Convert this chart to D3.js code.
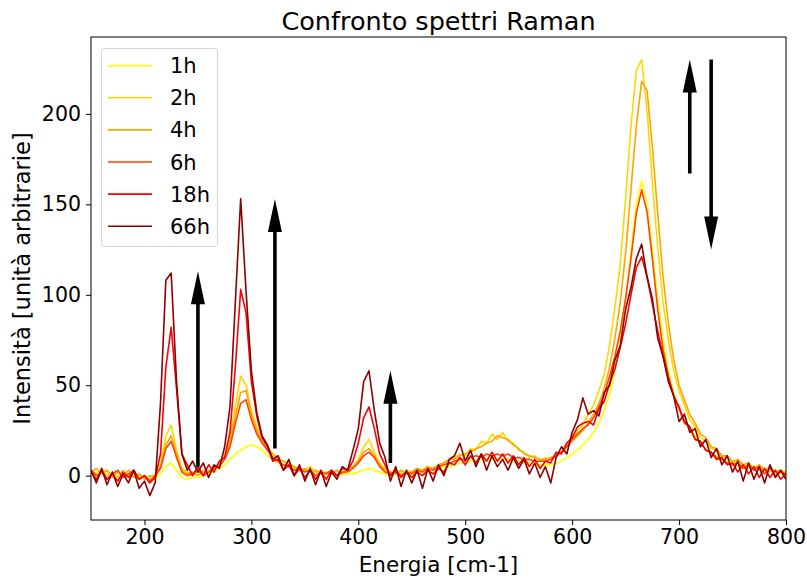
<!DOCTYPE html>
<html><head><meta charset="utf-8">
<script src="https://cdn.jsdelivr.net/npm/d3@7"></script>
<style>
body{margin:0;background:#fff}
svg{display:block}
text{font-family:"DejaVu Sans", sans-serif; fill:#000}
</style>
</head><body>
<svg id="c" width="807" height="578"></svg>
<script>
// Raman shift grid (cm-1), sampled every 5 cm-1
const energies = d3.range(150, 805, 5);
const seriesLabels = ["1h", "2h", "4h", "6h", "18h", "66h"];
const seriesColors = ["#ffff00", "#ffd700", "#ffa500", "#ff4500", "#ff0000", "#8b0000"];

const s1h = [
  2, 0, 1, 3, 0, 2, 1, -1, 1, 0,
  -1, -2, -1, 1, 5, 7, 3, -1, -2, -1,
  -1, 0, 1, 2, 4, 6, 9, 12, 14, 16,
  17, 16, 14, 11, 9, 7, 6, 5, 4, 3,
  3, 2, 2, 1, 1, 1, 0, 1, 1, 1,
  2, 3, 4, 3, 2, 1, 0, 1, 0, 1,
  1, 2, 2, 3, 3, 4, 5, 5, 6, 7,
  7, 8, 8, 9, 9, 9, 9, 9, 9, 8,
  8, 7, 7, 6, 6, 6, 6, 7, 8, 10,
  12, 14, 17, 20, 24, 29, 36, 45, 58, 74,
  97, 124, 150, 163, 150, 125, 98, 76, 58, 46,
  37, 31, 25, 22, 17, 15, 12, 11, 9, 8,
  7, 5, 6, 4, 5, 3, 4, 2, 3, 1,
  1];
const s2h = [
  3, 1, 4, 0, 2, -1, 3, 0, 2, -1,
  0, -2, 1, 6, 22, 28, 14, 4, 2, 0,
  2, 1, 3, 4, 7, 11, 20, 38, 55, 50,
  36, 27, 20, 16, 12, 10, 8, 7, 5, 4,
  3, 5, 2, 3, 1, 3, 0, 2, 3, 5,
  9, 16, 20, 13, 7, 4, 2, 3, 1, 3,
  2, 4, 3, 5, 4, 6, 7, 9, 10, 12,
  11, 15, 14, 19, 18, 23, 20, 24, 19, 18,
  14, 13, 10, 11, 8, 10, 9, 12, 13, 18,
  20, 25, 28, 34, 39, 47, 56, 72, 93, 117,
  153, 193, 224, 230, 202, 162, 126, 96, 75, 58,
  47, 39, 31, 27, 21, 19, 15, 14, 10, 11,
  7, 8, 5, 7, 4, 6, 3, 5, 2, 3,
  2];
const s4h = [
  2, 4, 1, 3, -1, 2, 0, 3, -1, 1,
  -2, 0, -1, 5, 17, 22, 12, 3, 1, 2,
  0, 3, 2, 5, 6, 10, 18, 33, 46, 47,
  34, 25, 19, 15, 12, 9, 8, 6, 5, 3,
  4, 2, 3, 1, 2, 1, 3, 1, 3, 5,
  8, 13, 15, 11, 6, 3, 2, 1, 3, 1,
  2, 4, 3, 5, 4, 6, 7, 9, 9, 11,
  12, 13, 15, 16, 18, 19, 22, 21, 20, 17,
  15, 12, 11, 10, 9, 9, 10, 11, 13, 16,
  19, 22, 25, 29, 34, 40, 48, 60, 76, 96,
  123, 158, 193, 218, 213, 182, 145, 110, 84, 64,
  50, 42, 34, 29, 23, 21, 16, 15, 11, 11,
  8, 9, 6, 7, 4, 6, 3, 4, 2, 3,
  1];
const s6h = [
  3, 0, 2, -2, 1, 3, -1, 1, 3, -2,
  0, -3, 0, 4, 15, 19, 10, 2, 0, 1,
  3, 0, 2, 4, 5, 9, 16, 29, 40, 42,
  31, 23, 18, 14, 10, 8, 6, 5, 3, 4,
  2, 3, 0, 2, 1, 3, 0, 2, 2, 4,
  7, 11, 13, 10, 5, 2, 1, 2, 0, 2,
  1, 3, 2, 4, 3, 5, 6, 7, 8, 9,
  9, 10, 11, 10, 12, 11, 12, 11, 12, 10,
  10, 9, 9, 8, 8, 8, 9, 11, 13, 16,
  20, 23, 26, 28, 32, 38, 45, 55, 66, 80,
  98, 120, 145, 158, 146, 120, 92, 70, 55, 44,
  37, 29, 27, 20, 19, 14, 13, 10, 9, 7,
  6, 7, 4, 6, 3, 5, 1, 4, 0, 2,
  1];
const s18h = [
  2, -2, 3, -2, 1, -3, 2, -1, 3, -2,
  0, -4, -1, 12, 60, 82, 48, 12, 6, 0,
  5, 0, 6, 2, 8, 10, 24, 60, 103, 90,
  52, 33, 21, 16, 8, 9, 3, 6, 0, 4,
  -1, 3, -2, 2, -2, 3, 0, 4, 3, 8,
  18, 32, 38, 26, 12, 6, 0, 3, -1, 2,
  -1, 2, 0, 3, 1, 4, 2, 7, 6, 10,
  6, 11, 7, 12, 8, 13, 8, 12, 7, 11,
  6, 10, 5, 9, 4, 8, 7, 13, 12, 18,
  21, 27, 29, 30, 28, 37, 41, 51, 59, 71,
  84, 100, 115, 121, 110, 95, 80, 66, 54, 44,
  38, 30, 27, 20, 19, 14, 13, 9, 10, 6,
  7, 2, 6, 1, 5, -1, 4, -1, 3, -2,
  1];
const s66h = [
  3, -4, 4, -5, 2, -6, 1, -4, 3, -7,
  -3, -11, -4, 40, 108, 112, 52, 12, 3, 8,
  2, 7, -1, 6, 4, 16, 38, 96, 153, 102,
  58, 35, 22, 17, 9, 11, 3, 9, 0, 6,
  -3, 4, -5, 3, -6, 2, -2, 5, 3, 14,
  26, 52, 58, 36, 18, 10, -3, 5, -6, 3,
  -4, 3, -7, 4, -3, 6, 0, 9, 11, 18,
  8, 14, 5, 12, 3, 11, 5, 9, 3, 10,
  4, 9, 1, 7, -1, 5, -4, 10, 16, 12,
  24, 31, 43, 34, 36, 33, 46, 50, 64, 72,
  92, 104, 120, 128, 110, 98, 76, 66, 52, 44,
  30, 34, 24, 26, 16, 20, 10, 15, 6, 11,
  2, 8, -3, 7, -2, 5, -4, 6, -1, 3,
  -2];
const seriesValues = [s1h, s2h, s4h, s6h, s18h, s66h];

const xTicks = [200, 300, 400, 500, 600, 700, 800];
const yTicks = [0, 50, 100, 150, 200];
// arrows: [energy, start intensity, tip intensity]
const arrowX = [250, 322, 430, 710, 730];
const arrowFrom = [5, 15, 7, 167, 230];
const arrowTo = [113, 153, 58, 230, 125];

const svg = d3.select("#c");
const L = 91, R = 786, T = 37, B = 520;
const x = d3.scaleLinear().domain([150, 800]).range([L, R]);
const y = d3.scaleLinear().domain([-24.5, 242.5]).range([B, T]);

svg.append("defs").append("clipPath").attr("id", "clip")
  .append("rect").attr("x", L).attr("y", T).attr("width", R - L).attr("height", B - T);

const line = d3.line().x(d => x(d[0])).y(d => y(d[1]));
const g = svg.append("g").attr("clip-path", "url(#clip)");
seriesValues.forEach((vals, i) => {
  g.append("path")
    .datum(energies.map((e, j) => [e, vals[j]]))
    .attr("d", line)
    .attr("fill", "none")
    .attr("stroke", seriesColors[i])
    .attr("stroke-width", 1.6)
    .attr("stroke-linejoin", "round");
});

// arrows
const sw = 1.8, hw = 7, hl = 33;
arrowX.forEach((ax, i) => {
  const cx = x(ax), yb = y(arrowFrom[i]), yt = y(arrowTo[i]);
  const dir = yt < yb ? 1 : -1; // 1 = pointing up
  const yh = yt + dir * hl;
  const pts = [[cx - sw, yb], [cx + sw, yb], [cx + sw, yh], [cx + hw, yh], [cx, yt], [cx - hw, yh], [cx - sw, yh]];
  svg.append("polygon").attr("points", pts.map(p => p.join(",")).join(" ")).attr("fill", "#000");
});

// axes
const xAxis = svg.append("g").attr("transform", `translate(0,${B})`)
  .call(d3.axisBottom(x).tickValues(xTicks).tickSize(5).tickPadding(4).tickFormat(d3.format("d")));
const yAxis = svg.append("g").attr("transform", `translate(${L},0)`)
  .call(d3.axisLeft(y).tickValues(yTicks).tickSize(5).tickPadding(5).tickFormat(d3.format("d")));
[xAxis, yAxis].forEach(a => {
  a.select(".domain").remove();
  a.selectAll("text").attr("font-size", 20.5).attr("font-family", "DejaVu Sans").attr("fill", "#000");
  a.selectAll("line").attr("stroke", "#000").attr("stroke-width", 1);
});
svg.append("rect").attr("x", L).attr("y", T).attr("width", R - L).attr("height", B - T)
  .attr("fill", "none").attr("stroke", "#000").attr("stroke-width", 1);

// titles
svg.append("text").attr("x", (L + R) / 2).attr("y", 30).attr("text-anchor", "middle")
  .attr("font-size", 25.5).text("Confronto spettri Raman");
svg.append("text").attr("x", (L + R) / 2).attr("y", 572).attr("text-anchor", "middle")
  .attr("font-size", 21.5).text("Energia [cm-1]");
svg.append("text").attr("transform", `translate(30,${(T + B) / 2}) rotate(-90)`)
  .attr("text-anchor", "middle").attr("font-size", 22.5).text("Intensità [unità arbitrarie]");

// legend
const lg = svg.append("g");
lg.append("rect").attr("x", 101.5).attr("y", 48.5).attr("width", 116).attr("height", 198)
  .attr("rx", 3).attr("fill", "#fff").attr("fill-opacity", 0.8).attr("stroke", "#d6d6d6");
seriesLabels.forEach((lab, i) => {
  const cy = 65.7 + i * 32.1;
  lg.append("line").attr("x1", 108).attr("x2", 152).attr("y1", cy).attr("y2", cy)
    .attr("stroke", seriesColors[i]).attr("stroke-width", 1.6);
  lg.append("text").attr("x", 170).attr("y", cy).attr("dy", "0.36em")
    .attr("font-size", 21).text(lab);
});
</script>
</body></html>
